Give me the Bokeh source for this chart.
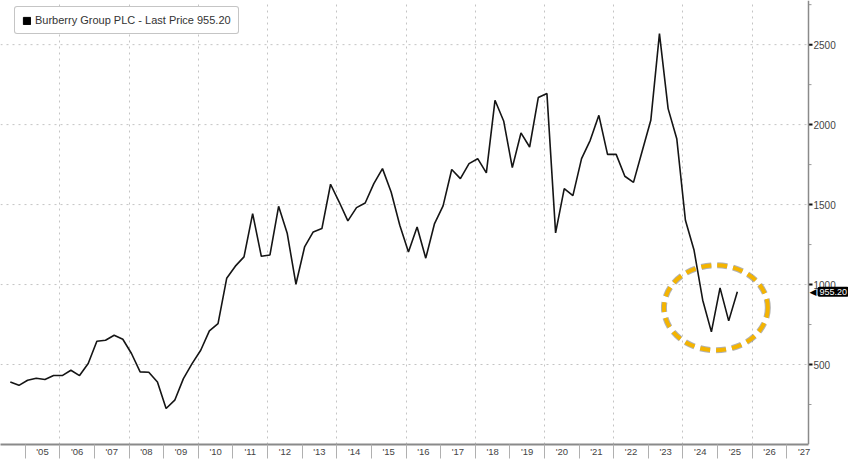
import numpy as np
from bokeh.plotting import figure
from bokeh.models import FixedTicker, Label, Legend, LegendItem, Range1d, Span
from bokeh.core.properties import value
from bokeh.embed import file_html
from bokeh.resources import INLINE

# ---- data ----
series_name = "Burberry Group PLC - Last Price 955.20"
last_price = 955.20
# quarterly observations, decimal years
dates = list(2004.57 + 0.25 * np.arange(85))
prices = [391, 370, 402, 414, 406, 431, 431, 464, 431, 506,
          646, 652, 683, 658, 569, 454, 452, 391, 225, 277,
          412, 506, 589, 710, 756, 1039, 1115, 1173, 1444, 1177,
          1185, 1489, 1319, 1002, 1235, 1329, 1350, 1627, 1516, 1398,
          1481, 1510, 1631, 1725, 1579, 1371, 1204, 1360, 1165, 1379,
          1492, 1719, 1662, 1756, 1787, 1698, 2152, 2023, 1731, 1948,
          1860, 2169, 2194, 1323, 1600, 1556, 1787, 1902, 2058, 1814,
          1814, 1677, 1639, 1834, 2027, 2569, 2100, 1912, 1402, 1214,
          902, 704, 979, 773, 955.2]

year_bounds = [2005 + i for i in range(23)]          # 2005 .. 2027
year_ticks = [y + 0.5 for y in year_bounds]          # label positions
year_labels = ["'05", "'06", "'07", "'08", "'09", "'10", "'11", "'12",
               "'13", "'14", "'15", "'16", "'17", "'18", "'19", "'20",
               "'21", "'22", "'23", "'24", "'25", "'26", "'27"]
grid_years = [2006, 2008, 2010, 2012, 2014, 2016, 2018, 2020, 2022, 2024, 2026]
price_ticks = [500, 1000, 1500, 2000, 2500]
price_labels = ["500", "1000", "1500", "2000", "2500"]
price_minor = [250, 750, 1250, 1750, 2250, 2750]

# highlighted region (ellipse): centre year, centre price, width (years), height (price)
hl_x, hl_y, hl_w, hl_h = 2024.95, 855, 3.0, 531

FONT = "Liberation Sans"
X_START, X_AXIS = 2004.287, 2027.625    # plotted time span; price axis sits at X_AXIS
AXIS_PX = 808                           # pixel position of the price axis
FW, FH = 848, 444
PX_YEAR = AXIS_PX / (X_AXIS - X_START)  # pixels per year
X_END = X_START + FW / PX_YEAR
Y_END = 2776

p = figure(frame_width=FW, frame_height=FH,
           x_range=Range1d(X_START, X_END), y_range=Range1d(0, Y_END),
           y_axis_location=None, output_backend="svg", toolbar_location=None,
           min_border_left=0, min_border_top=0, min_border_bottom=15, min_border_right=0,
           background_fill_color="white", border_fill_color="white")
p.outline_line_color = None

# vertical dotted grid
p.xgrid.ticker = FixedTicker(ticks=grid_years)
p.xgrid.grid_line_color = "#c4c4c4"
p.xgrid.grid_line_dash = "2 4"
p.ygrid.visible = False

# horizontal dotted grid, stopping at the price axis
n = len(price_ticks)
p.segment(x0=[X_START] * n, y0=price_ticks, x1=[X_AXIS] * n, y1=price_ticks,
          line_color="#c4c4c4", line_dash="2 4", line_width=1)

# x axis (year labels between year separators)
xa = p.xaxis[0]
xa.bounds = (X_START, X_AXIS)
xa.ticker = FixedTicker(ticks=year_ticks, minor_ticks=year_bounds)
xa.major_label_overrides = {t: l for t, l in zip(year_ticks, year_labels)}
xa.axis_line_color = "#8a8a8a"
xa.axis_line_width = 2
xa.major_tick_line_color = None
xa.major_tick_out = 0
xa.major_tick_in = 0
xa.minor_tick_line_color = "#b0b0b0"
xa.minor_tick_out = 14
xa.minor_tick_in = 0
xa.major_label_standoff = -13
xa.major_label_text_font = FONT
xa.major_label_text_font_size = "9.5px"
xa.major_label_text_color = "#444444"

# price axis on the right (line, ticks, labels)
p.add_layout(Span(location=X_AXIS, dimension="height", line_color="#8a8a8a", line_width=1.5))
p.segment(x0=[X_AXIS] * n, y0=price_ticks, x1=[X_AXIS + 4 / PX_YEAR] * n, y1=price_ticks,
          line_color="#111111", line_width=2)
m = len(price_minor)
p.segment(x0=[X_AXIS] * m, y0=price_minor, x1=[X_AXIS + 3 / PX_YEAR] * m, y1=price_minor,
          line_color="#9a9a9a", line_width=1)
p.text(x=[X_AXIS] * n, y=price_ticks, text=price_labels, x_offset=5,
       text_align="left", text_baseline="middle", text_font=value(FONT),
       text_font_size="10px", text_color="#444444")

# price line
p.line(dates, prices, line_color="#151515", line_width=1.6)

# highlight ellipse with soft shadow
p.ellipse(x=[hl_x], y=[hl_y], width=hl_w, height=hl_h, fill_color=None,
          line_color="#555555", line_alpha=0.45, line_width=6, line_dash="10 6")
p.ellipse(x=[hl_x], y=[hl_y], width=hl_w, height=hl_h, fill_color=None,
          line_color="#F4B400", line_width=4, line_dash="10 6")

# legend (square swatch)
swatch = p.rect(x=[np.nan], y=[np.nan], width=1, height=1, color="black")
legend = Legend(items=[LegendItem(label=series_name, renderers=[swatch])],
                location=(14, 410))
legend.border_line_color = "#8c8c8c"
legend.border_line_width = 1
legend.border_radius = 3
legend.background_fill_color = "white"
legend.background_fill_alpha = 1
legend.label_text_font = FONT
legend.label_text_font_size = "11px"
legend.label_text_color = "#333333"
legend.glyph_width = 9
legend.glyph_height = 9
legend.label_height = 12
legend.label_standoff = 4
legend.padding = 7
legend.margin = 0
legend.spacing = 0
p.add_layout(legend)

# last price tag next to the price axis
p.text(x=[X_AXIS], y=[last_price], text=["\u25C0"], x_offset=1,
       text_align="left", text_baseline="middle", text_font=value("DejaVu Sans"),
       text_font_size="9px", text_color="black")
p.add_layout(Label(x=X_AXIS, y=last_price, x_offset=9, text=f"{last_price:.2f}",
                   text_align="left", text_baseline="middle", text_color="white",
                   text_font=FONT, text_font_size="9px",
                   background_fill_color="black", padding=2, border_radius=2))

open("out.html", "w").write(file_html(p, INLINE))
